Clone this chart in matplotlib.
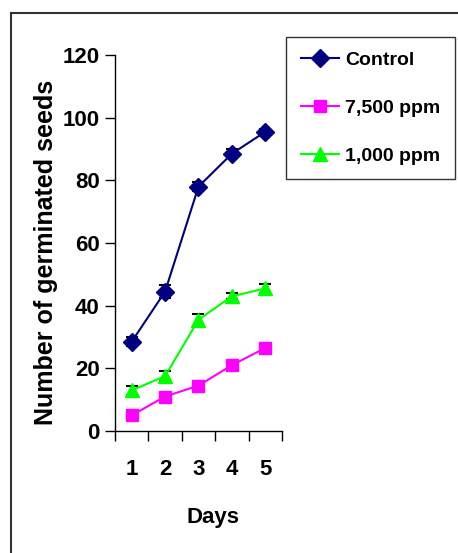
import matplotlib
matplotlib.use("Agg")
import matplotlib.pyplot as plt
from matplotlib.lines import Line2D
from matplotlib import font_manager

days = [1, 2, 3, 4, 5]
day_labels = ["1", "2", "3", "4", "5"]
series_names = ["Control", "7,500 ppm", "1,000 ppm"]
control = [28.5, 44.5, 78.0, 88.5, 95.5]
control_err = [1.5, 2.0, 1.5, 1.5, 1.0]
ppm7500 = [5.0, 11.0, 14.5, 21.0, 26.5]
ppm7500_err = [1.5, 1.0, 1.5, 1.5, 1.5]
ppm1000 = [13.0, 17.5, 35.5, 43.0, 45.5]
ppm1000_err = [1.5, 1.5, 2.0, 1.0, 1.5]
yticks = [0, 20, 40, 60, 80, 100, 120]

names = {f.name for f in font_manager.fontManager.ttflist}
narrow = "Liberation Sans Narrow" if "Liberation Sans Narrow" in names else "Liberation Sans"

plt.rcParams['font.family'] = ['Liberation Sans', 'DejaVu Sans']

W, H = 458, 553
fig = plt.figure(figsize=(W / 100, H / 100), dpi=100)
ax = fig.add_axes([115 / W, 1 - 431 / H, (282 - 115) / W, (431 - 55) / H])

styles = [
    (control, control_err, "#000080", "D", 9),
    (ppm7500, ppm7500_err, "#FF00FF", "s", 9),
    (ppm1000, ppm1000_err, "#00FF00", "^", 10),
]
handles = []
for (vals, errs, col, mk, ms), name in zip(styles, series_names):
    ax.errorbar(days, vals, yerr=errs, fmt='none', ecolor='black', elinewidth=1.2,
                capsize=4, capthick=1.5, zorder=2)
    h, = ax.plot(days, vals, color=col, marker=mk, markersize=ms, linewidth=1.5,
                 markeredgecolor=col, zorder=3, label=name)
    handles.append(h)

ax.set_xlim(0.5, 5.5)
ax.set_ylim(0, 120)
ax.set_yticks(yticks)
ax.set_yticklabels([str(v) for v in yticks], fontfamily=narrow, fontweight='bold', fontsize=16)
ax.set_xticks([0.5, 1.5, 2.5, 3.5, 4.5, 5.5])
ax.set_xticklabels([])
ax.set_xticks(days, minor=True)
ax.set_xticklabels(day_labels, minor=True, fontfamily=narrow, fontweight='bold', fontsize=16)
ax.tick_params(axis='x', which='major', direction='out', length=7, width=1)
ax.tick_params(axis='x', which='minor', length=0, pad=20)
ax.tick_params(axis='y', direction='out', length=7, width=1, pad=4)
for s in ['top', 'right']:
    ax.spines[s].set_visible(False)
for s in ['left', 'bottom']:
    ax.spines[s].set_linewidth(1.0)

fig.text(213 / W, 1 - 518 / H, "Days", ha='center', va='center',
         fontfamily=narrow, fontweight='bold', fontsize=16)
fig.text(46 / W, 1 - 252 / H, "Number of germinated seeds", rotation=90,
         ha='center', va='center', fontweight='bold', fontsize=18)

leg = fig.legend(handles=handles, loc='upper left',
                 bbox_to_anchor=(286 / W, 1 - 37 / H), borderaxespad=0,
                 frameon=True, fancybox=False, handlelength=2.0, labelspacing=1.55,
                 borderpad=0.75, handletextpad=0.3,
                 prop={'family': narrow, 'weight': 'bold', 'size': 14})
leg.get_frame().set_edgecolor('black')
leg.get_frame().set_linewidth(1.0)

# outer frame (left and top edges)
fig.add_artist(Line2D([11 / W, 11 / W], [0, 1 - 13 / H], transform=fig.transFigure,
                      color='#333333', linewidth=1.5))
fig.add_artist(Line2D([11 / W, 1], [1 - 13 / H, 1 - 13 / H], transform=fig.transFigure,
                      color='#333333', linewidth=1.5))

fig.savefig("out.png", dpi=100)
